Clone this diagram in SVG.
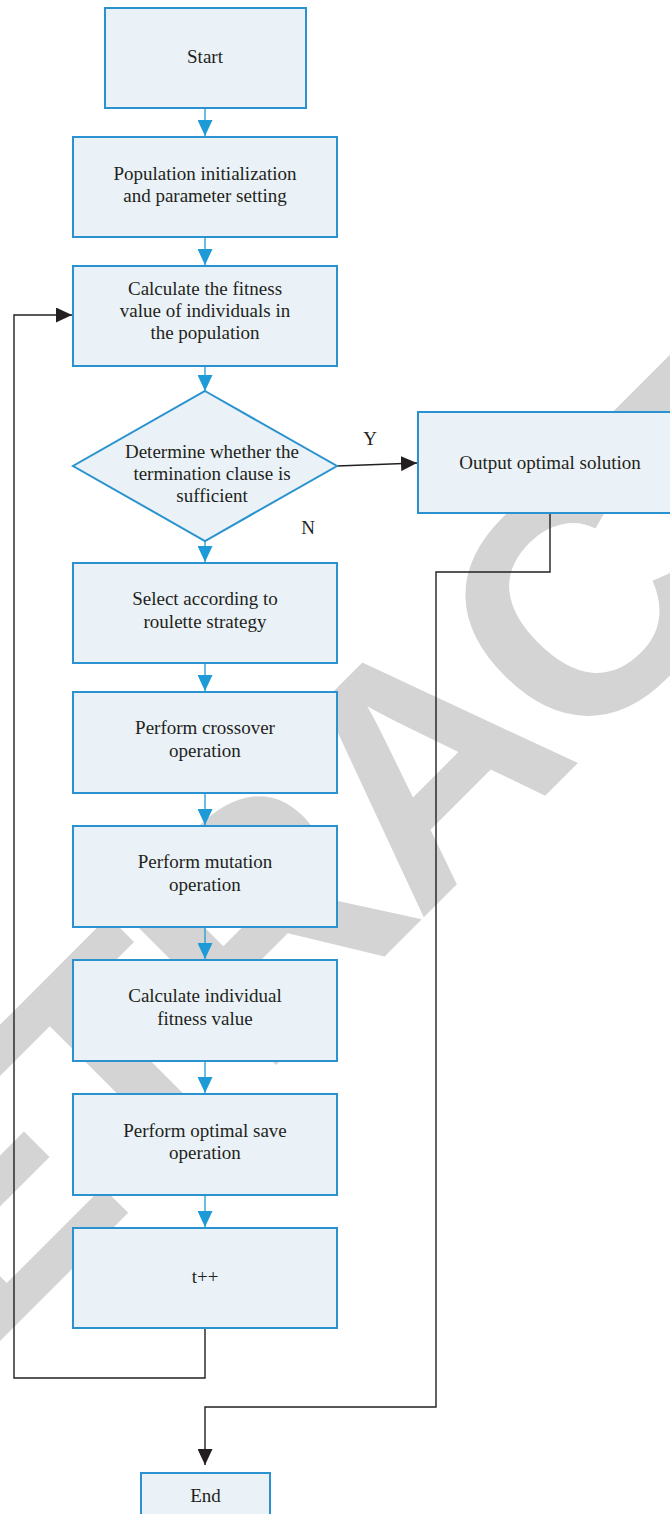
<svg xmlns="http://www.w3.org/2000/svg" width="670" height="1514" viewBox="0 0 670 1514">
  <style>
    .box { fill: #eaf2f7; stroke: #2a93cf; stroke-width: 2; }
    .lbl { font-family: "Liberation Serif", "Times New Roman", serif; font-size: 19px; fill: #231f20; text-anchor: middle; }
    .blue { stroke: #1e9ad6; stroke-width: 1.3; fill: none; }
    .blk { stroke: #231f20; stroke-width: 1.4; fill: none; }
    .wm { font-family: "Liberation Sans", Arial, sans-serif; font-weight: bold; font-size: 325px; letter-spacing: -12px; fill: #d4d4d4; text-anchor: middle; }
  </style>
  <defs>
    <marker id="ab" viewBox="0 0 16 15" refX="16" refY="7.5" markerWidth="16" markerHeight="15" markerUnits="userSpaceOnUse" orient="auto">
      <path d="M0,0 L16,7.5 L0,15 Z" fill="#1e9ad6"/>
    </marker>
    <marker id="ak" viewBox="0 0 16 15" refX="16" refY="7.5" markerWidth="16" markerHeight="15" markerUnits="userSpaceOnUse" orient="auto">
      <path d="M0,0 L16,7.5 L0,15 Z" fill="#231f20"/>
    </marker>
  </defs>
  <rect width="670" height="1514" fill="#ffffff"/>
  <g id="watermark" transform="translate(419,758) rotate(-45)">
    <text class="wm" x="-6" y="116">RETRACTED</text>
  </g>
  <g id="connectors">
    <line class="blue" x1="205" y1="109" x2="205" y2="136" marker-end="url(#ab)"/>
    <line class="blue" x1="205" y1="238" x2="205" y2="265" marker-end="url(#ab)"/>
    <line class="blue" x1="205" y1="367" x2="205" y2="391" marker-end="url(#ab)"/>
    <line class="blue" x1="205" y1="541" x2="205" y2="562" marker-end="url(#ab)"/>
    <line class="blue" x1="205" y1="664" x2="205" y2="691" marker-end="url(#ab)"/>
    <line class="blue" x1="205" y1="794" x2="205" y2="825" marker-end="url(#ab)"/>
    <line class="blue" x1="205" y1="928" x2="205" y2="959" marker-end="url(#ab)"/>
    <line class="blue" x1="205" y1="1062" x2="205" y2="1093" marker-end="url(#ab)"/>
    <line class="blue" x1="205" y1="1196" x2="205" y2="1227" marker-end="url(#ab)"/>
    <line class="blk" x1="337" y1="466" x2="417" y2="463" marker-end="url(#ak)"/>
    <polyline class="blk" points="205,1329 205,1378 14,1378 14,315 72,315" marker-end="url(#ak)"/>
    <polyline class="blk" points="550,514 550,572 436,572 436,1407 205,1407 205,1465" marker-end="url(#ak)"/>
    <text class="lbl" x="370" y="445">Y</text>
    <text class="lbl" x="308" y="534">N</text>
  </g>
  <g id="start">
    <rect class="box" x="105" y="8" width="201" height="100"/>
    <text class="lbl" x="205" y="63">Start</text>
  </g>
  <g id="init">
    <rect class="box" x="73" y="137" width="264" height="100"/>
    <text class="lbl" x="205" y="180">Population initialization</text>
    <text class="lbl" x="205" y="202">and parameter setting</text>
  </g>
  <g id="fitness">
    <rect class="box" x="73" y="266" width="264" height="100"/>
    <text class="lbl" x="205" y="295">Calculate the fitness</text>
    <text class="lbl" x="205" y="317">value of individuals in</text>
    <text class="lbl" x="205" y="339">the population</text>
  </g>
  <g id="decision">
    <polygon class="box" points="205,391 337,466 205,541 73,466"/>
    <text class="lbl" x="212" y="458">Determine whether the</text>
    <text class="lbl" x="212" y="480">termination clause is</text>
    <text class="lbl" x="212" y="502">sufficient</text>
  </g>
  <g id="output">
    <rect class="box" x="418" y="412" width="254" height="101"/>
    <text class="lbl" x="550" y="469">Output optimal solution</text>
  </g>
  <g id="select">
    <rect class="box" x="73" y="563" width="264" height="100"/>
    <text class="lbl" x="205" y="605">Select according to</text>
    <text class="lbl" x="205" y="628">roulette strategy</text>
  </g>
  <g id="crossover">
    <rect class="box" x="73" y="692" width="264" height="101"/>
    <text class="lbl" x="205" y="734">Perform crossover</text>
    <text class="lbl" x="205" y="757">operation</text>
  </g>
  <g id="mutation">
    <rect class="box" x="73" y="826" width="264" height="101"/>
    <text class="lbl" x="205" y="868">Perform mutation</text>
    <text class="lbl" x="205" y="891">operation</text>
  </g>
  <g id="indfitness">
    <rect class="box" x="73" y="960" width="264" height="101"/>
    <text class="lbl" x="205" y="1002">Calculate individual</text>
    <text class="lbl" x="205" y="1025">fitness value</text>
  </g>
  <g id="save">
    <rect class="box" x="73" y="1094" width="264" height="101"/>
    <text class="lbl" x="205" y="1137">Perform optimal save</text>
    <text class="lbl" x="205" y="1159">operation</text>
  </g>
  <g id="tinc">
    <rect class="box" x="73" y="1228" width="264" height="100"/>
    <text class="lbl" x="205" y="1283">t++</text>
  </g>
  <g id="end">
    <rect class="box" x="141" y="1473" width="129" height="60"/>
    <text class="lbl" x="205.5" y="1502">End</text>
  </g>
</svg>
